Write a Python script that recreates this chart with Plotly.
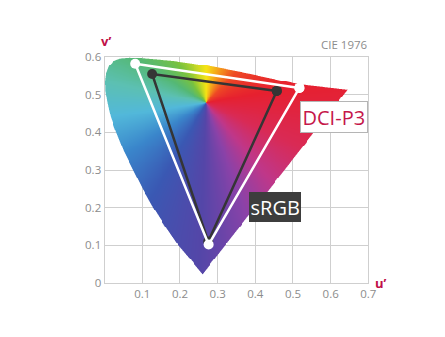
import numpy as np
import plotly.graph_objects as go

# ---- data ----
# gamut boundary (horseshoe) in u'v'
locus_u = [0.259, 0.225, 0.190, 0.160, 0.128, 0.100, 0.075, 0.050, 0.030, 0.015, 0.006,
           0.001, 0.000, 0.003, 0.010, 0.022, 0.040, 0.065, 0.100, 0.180, 0.272, 0.386,
           0.517, 0.644]
locus_v = [0.024, 0.065, 0.106, 0.150, 0.200, 0.250, 0.300, 0.350, 0.400, 0.440, 0.480,
           0.510, 0.535, 0.558, 0.576, 0.589, 0.596, 0.598, 0.597, 0.590, 0.577, 0.555,
           0.527, 0.513]

dci_u = [0.517, 0.081, 0.276]
dci_v = [0.518, 0.582, 0.102]
srgb_u = [0.457, 0.126, 0.275]
srgb_v = [0.510, 0.555, 0.110]

x_ticks = [0.1, 0.2, 0.3, 0.4, 0.5, 0.6, 0.7]
x_labels = ["0.1", "0.2", "0.3", "0.4", "0.5", "0.6", "0.7"]
y_ticks = [0, 0.1, 0.2, 0.3, 0.4, 0.5, 0.6]
y_labels = ["0", "0.1", "0.2", "0.3", "0.4", "0.5", "0.6"]

# ---- gradient fill of the horseshoe (conic colour wheel) ----
dx = 0.0025
nx, ny = int(0.7 / dx), int(0.6 / dx)
pu = np.array(locus_u)
pv = np.array(locus_v)


def inside_poly(U, V):
    res = np.zeros(U.shape, dtype=bool)
    n = len(pu)
    for i in range(n):
        j = (i - 1) % n
        xi, yi, xj, yj = pu[i], pv[i], pu[j], pv[j]
        cond = ((yi > V) != (yj > V))
        xint = (xj - xi) * (V - yi) / ((yj - yi) + 1e-12) + xi
        res ^= cond & (U < xint)
    return res


# supersampled coverage for smooth edges
ss = 3
alpha = np.zeros((ny, nx))
for a in range(ss):
    for b in range(ss):
        uu = (np.arange(nx) + (a + 0.5) / ss) * dx
        vv = (np.arange(ny) + (b + 0.5) / ss) * dx
        Us, Vs = np.meshgrid(uu, vv)
        alpha += inside_poly(Us, Vs)
alpha /= ss * ss

uu = (np.arange(nx) + 0.5) * dx
vv = (np.arange(ny) + 0.5) * dx
U, V = np.meshgrid(uu, vv)
uc, vc = 0.268, 0.478
ang = (np.degrees(np.arctan2((U - uc) * 381, (V - vc) * 377)) + 360) % 360
stops = [0, 20, 45, 80, 115, 140, 160, 182, 210, 238, 262, 282, 302, 325, 345, 360]
cols = ["#f6e414", "#f5a31a", "#ee4a24", "#e6202f", "#d92a55", "#bf3789", "#8a42a8",
        "#5446a8", "#3a58b3", "#3a86cb", "#52b8da", "#5cc0b2", "#54b874", "#79c23e",
        "#c4d824", "#f6e414"]
rgb = np.array([[int(c[k:k + 2], 16) for k in (1, 3, 5)] for c in cols], dtype=float)
img = np.zeros((ny, nx, 4))
for ch in range(3):
    img[..., ch] = np.interp(ang, stops, rgb[:, ch])
img[..., 3] = alpha

fig = go.Figure()
fig.add_trace(go.Image(z=img, colormodel="rgba", x0=dx / 2, dx=dx, y0=dx / 2, dy=dx,
                       hoverinfo="skip"))

fig.add_trace(go.Scatter(x=srgb_u + [srgb_u[0]], y=srgb_v + [srgb_v[0]], mode="lines+markers",
                         line=dict(color="#353535", width=2.5),
                         marker=dict(color="#353535", size=10), showlegend=False))
fig.add_trace(go.Scatter(x=dci_u + [dci_u[0]], y=dci_v + [dci_v[0]], mode="lines+markers",
                         line=dict(color="#ffffff", width=2.5),
                         marker=dict(color="#ffffff", size=10), showlegend=False))

grid = "#cfcfcf"
fig.update_layout(
    width=445, height=337,
    margin=dict(l=103, r=75, t=57, b=54),
    paper_bgcolor="white", plot_bgcolor="white",
    font=dict(family="Open Sans", color="#8c8c8c", size=11),
    showlegend=False,
    xaxis=dict(range=[0, 0.7], autorange=False, tickvals=x_ticks, ticktext=x_labels,
               showgrid=True, gridcolor=grid, gridwidth=1.3, zeroline=False,
               showline=True, linecolor=grid, linewidth=1.3, mirror=True,
               ticks="", tickfont=dict(size=11.5, color="#8c8c8c")),
    yaxis=dict(range=[0, 0.6], autorange=False, tickvals=y_ticks, ticktext=y_labels,
               showgrid=True, gridcolor=grid, gridwidth=1.3, zeroline=False,
               showline=True, linecolor=grid, linewidth=1.3, mirror=True,
               ticks="", tickfont=dict(size=11.5, color="#8c8c8c")),
    annotations=[
        dict(x=0.609, y=0.44, xref="x", yref="y", text="DCI-P3", showarrow=False,
             font=dict(family="Open Sans", size=20, color="#c5164a"),
             bgcolor="white", bordercolor="#b5b5b5", borderwidth=1, borderpad=1.5),
        dict(x=0.451, y=0.2025, xref="x", yref="y", text="sRGB", showarrow=False,
             font=dict(family="Open Sans", size=20, color="white"),
             bgcolor="#3d3d3d", borderwidth=0, borderpad=1.5),
        dict(x=1, y=1.055, xref="paper", yref="paper", xanchor="right", yanchor="middle",
             text="CIE 1976", showarrow=False,
             font=dict(family="Open Sans", size=11.5, color="#8c8c8c")),
        dict(x=0.012, y=1.07, xref="paper", yref="paper", xanchor="center", yanchor="middle",
             text="<b>v’</b>", showarrow=False,
             font=dict(family="Open Sans", size=13, color="#c01048")),
        dict(x=1.04, y=0.0, xref="paper", yref="paper", xanchor="center", yanchor="middle",
             text="<b>u’</b>", showarrow=False,
             font=dict(family="Open Sans", size=13, color="#c01048")),
    ],
)

fig.write_html("out.html")
